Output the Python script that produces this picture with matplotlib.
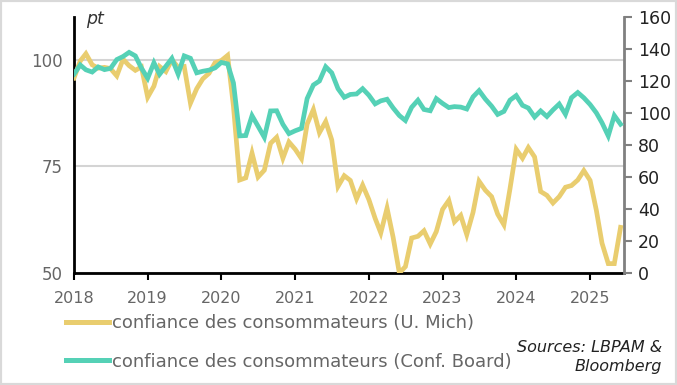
import pandas as pd
import matplotlib
matplotlib.use("Agg")
import matplotlib.pyplot as plt
import matplotlib.dates as mdates
from matplotlib.lines import Line2D
from matplotlib.patches import Rectangle

plt.rcParams['font.family'] = ['DejaVu Sans']

dates = pd.date_range("2018-01-01", "2025-06-01", freq="MS")

# University of Michigan consumer sentiment (left axis)
umich = [95.7, 99.7, 101.4, 98.8, 98.0, 98.2, 97.9, 96.2, 100.1, 98.6, 97.5, 98.3,
         91.2, 93.8, 98.4, 97.2, 100.0, 98.2, 98.4, 89.8, 93.2, 95.5, 96.8, 99.3,
         99.8, 101.0, 89.1, 71.8, 72.3, 78.1, 72.5, 74.1, 80.4, 81.8, 76.9, 80.7,
         79.0, 76.8, 84.9, 88.3, 82.9, 85.5, 81.2, 70.3, 72.8, 71.7, 67.4, 70.6,
         67.2, 62.8, 59.4, 65.2, 58.4, 50.0, 51.5, 58.2, 58.6, 59.9, 56.8, 59.7,
         64.9, 67.0, 62.0, 63.5, 59.0, 64.2, 71.5, 69.4, 67.9, 63.8, 61.3, 69.7,
         79.0, 76.9, 79.4, 77.2, 69.1, 68.2, 66.4, 67.9, 70.1, 70.5, 71.8, 74.0,
         71.7, 64.7, 57.0, 52.2, 52.2, 60.7]

# Conference Board consumer confidence (right axis)
confboard = [124.3, 130.0, 127.0, 125.6, 128.8, 127.1, 127.9, 133.4, 135.3, 137.9, 135.7, 128.1,
             121.7, 131.4, 124.2, 129.2, 134.1, 124.3, 135.7, 134.2, 125.1, 126.1, 126.8, 128.2,
             131.6, 130.7, 118.8, 85.7, 85.9, 98.3, 91.7, 84.8, 101.3, 101.4, 92.9, 87.1,
             88.9, 90.4, 109.0, 117.5, 120.0, 128.9, 125.1, 115.2, 109.8, 111.6, 111.9, 115.2,
             111.1, 105.7, 107.6, 108.6, 103.2, 98.4, 95.3, 103.6, 108.0, 102.2, 101.4, 109.0,
             106.0, 103.4, 104.0, 103.7, 102.5, 110.1, 114.0, 108.7, 104.3, 99.1, 101.0, 108.0,
             110.9, 104.8, 103.1, 97.5, 101.3, 97.8, 101.9, 105.6, 99.2, 109.6, 112.8, 109.5,
             105.3, 100.1, 93.9, 85.7, 98.4, 93.0]

labels = ["confiance des consommateurs (U. Mich)",
          "confiance des consommateurs (Conf. Board)"]
yellow = "#E9CD6F"
green = "#55D1B6"

fig = plt.figure(figsize=(6.77, 3.85), dpi=100)
ax = fig.add_axes([74 / 677, 1 - 273 / 385, 550 / 677, 256 / 385])
ax2 = ax.twinx()

ax.plot(dates, umich, color=yellow, lw=3.4, solid_joinstyle="miter", zorder=3)
ax2.plot(dates, confboard, color=green, lw=3.4, solid_joinstyle="miter", zorder=3)

ax.set_xlim(pd.Timestamp("2018-01-01"), pd.Timestamp("2025-06-18"))
ax.set_ylim(50, 110)
ax2.set_ylim(0, 160)

ax.set_yticks([50, 75, 100])
ax.grid(axis="y", color="#d4d4d4", lw=1.5)
ax.set_axisbelow(True)
ax.tick_params(axis="y", length=0, labelsize=12, labelcolor="#666666", pad=8)
ax.xaxis.set_major_locator(mdates.YearLocator())
ax.xaxis.set_major_formatter(mdates.DateFormatter("%Y"))
ax.tick_params(axis="x", length=5, width=1.5, color="black", labelsize=11.5,
               labelcolor="#666666", pad=8)

ax2.set_yticks(range(0, 161, 20))
ax2.tick_params(axis="y", length=6, width=1.5, color="#808080", labelsize=12.5,
                labelcolor="#222222", pad=4)

for a in (ax, ax2):
    a.spines["top"].set_visible(False)
ax.spines["right"].set_visible(False)
ax2.spines["left"].set_visible(False)
ax2.spines["bottom"].set_visible(False)
ax.spines["left"].set_linewidth(2)
ax.spines["bottom"].set_linewidth(2)
ax2.spines["right"].set_linewidth(2)
ax2.spines["right"].set_color("#808080")

fig.text(86 / 677, 1 - 19 / 385, "pt", fontsize=12.5, style="italic",
         color="#333333", va="center", ha="left")

handles = [Line2D([], [], color=yellow, lw=3.6), Line2D([], [], color=green, lw=3.6)]
fig.legend(handles, labels, loc="upper left", bbox_to_anchor=(66 / 677, 1 - 314 / 385),
           frameon=False, fontsize=13, labelcolor="#666666", handlelength=2.4,
           handletextpad=0.15, labelspacing=1.15, borderaxespad=0, borderpad=0)

fig.text(662 / 677, 1 - 357 / 385, "Sources: LBPAM &\nBloomberg", fontsize=11.5,
         style="italic", color="#222222", ha="right", va="center", linespacing=1.35,
         multialignment="right")

fig.patches.append(Rectangle((0, 0), 1, 1, transform=fig.transFigure, fill=False,
                             edgecolor="#d9d9d9", lw=3))

fig.savefig("out.png", dpi=100)
